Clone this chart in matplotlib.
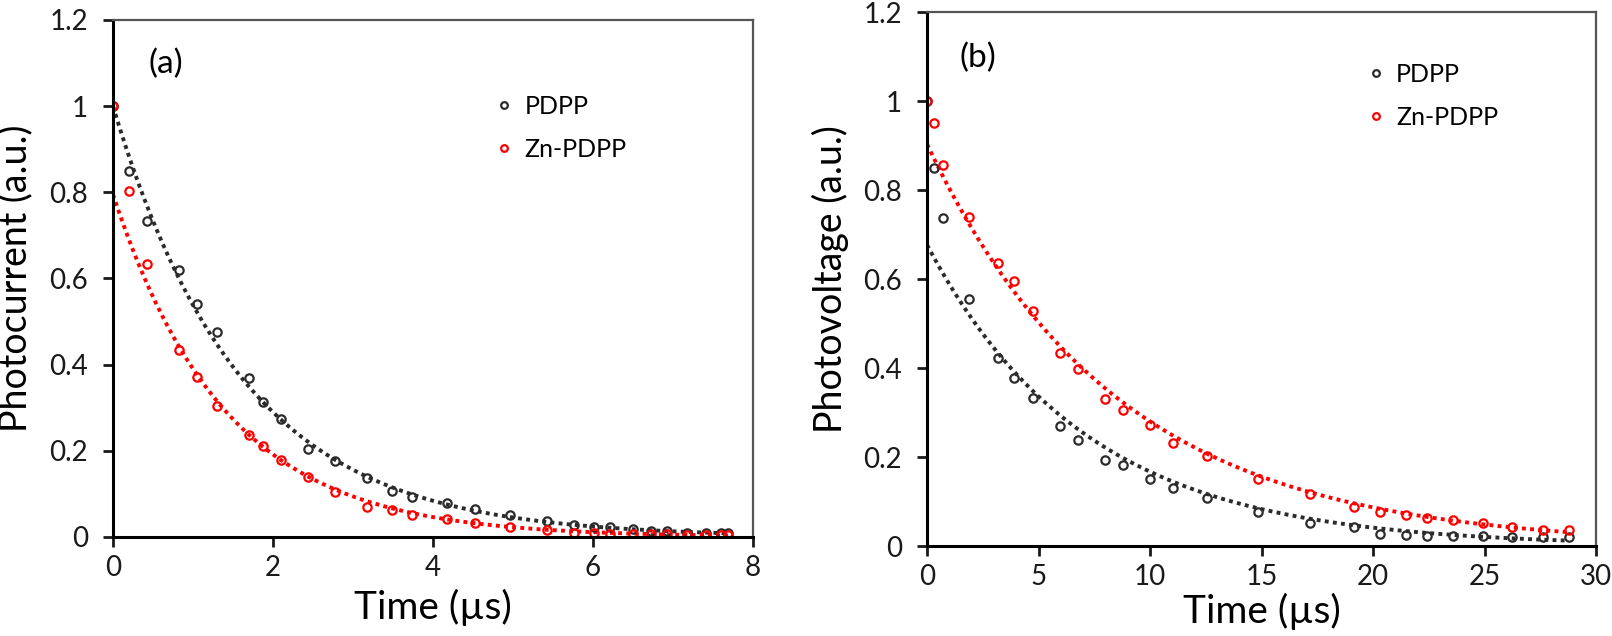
import numpy as np
import matplotlib
matplotlib.use('Agg')
import matplotlib.pyplot as plt

plt.rcParams['font.family'] = ['Lato', 'DejaVu Sans']

# panel (a): transient photocurrent
time_a = [0, 0.2, 0.43, 0.82, 1.05, 1.30, 1.70, 1.88, 2.10, 2.44, 2.77, 3.18, 3.49, 3.74,
          4.18, 4.53, 4.96, 5.42, 5.76, 6.01, 6.21, 6.50, 6.72, 6.93, 7.18, 7.41, 7.60, 7.69]
pdpp_a = [1.0, 0.849, 0.734, 0.619, 0.541, 0.475, 0.369, 0.314, 0.274, 0.204, 0.176, 0.137, 0.107, 0.092,
          0.078, 0.064, 0.050, 0.036, 0.028, 0.024, 0.022, 0.018, 0.015, 0.015, 0.010, 0.010, 0.009, 0.009]
zn_a = [1.0, 0.804, 0.633, 0.433, 0.371, 0.303, 0.237, 0.211, 0.179, 0.140, 0.104, 0.070, 0.063, 0.051,
        0.041, 0.032, 0.024, 0.016, 0.010, 0.010, 0.007, 0.006, 0.006, 0.006, 0.005, 0.005, 0.005, 0.005]

# panel (b): transient photovoltage
time_b = [0, 0.33, 0.70, 1.88, 3.2, 3.92, 4.74, 5.96, 6.77, 7.98, 8.80, 10.01, 11.03, 12.57,
          14.85, 17.18, 19.13, 20.33, 21.49, 22.4, 23.59, 24.94, 26.23, 27.64, 28.77]
pdpp_b = [1.0, 0.849, 0.738, 0.554, 0.422, 0.378, 0.332, 0.270, 0.238, 0.193, 0.182, 0.151, 0.130, 0.109,
          0.077, 0.052, 0.043, 0.028, 0.025, 0.023, 0.022, 0.023, 0.021, 0.020, 0.021]
zn_b = [1.0, 0.950, 0.856, 0.740, 0.637, 0.595, 0.529, 0.434, 0.397, 0.330, 0.306, 0.272, 0.231, 0.202,
        0.150, 0.116, 0.087, 0.076, 0.070, 0.064, 0.058, 0.052, 0.043, 0.037, 0.037]

black = '#2b2b2b'
red = '#ff0000'


def exp_trend(t, y):
    # excel-style exponential trendline (linear fit of ln y)
    t = np.asarray(t, float)
    k, b = np.polyfit(t, np.log(y), 1)
    tt = np.linspace(0, t.max(), 200)
    return tt, np.exp(b) * np.exp(k * tt)


def style(ax, xlim, xticks):
    ax.set_xlim(*xlim)
    ax.set_ylim(0, 1.2)
    ax.set_xticks(xticks)
    ax.set_yticks([0, 0.2, 0.4, 0.6, 0.8, 1.0, 1.2])
    ax.set_yticklabels(['0', '0.2', '0.4', '0.6', '0.8', '1', '1.2'])
    for s in ['left', 'bottom']:
        ax.spines[s].set_linewidth(2.2)
        ax.spines[s].set_color('black')
    for s in ['top', 'right']:
        ax.spines[s].set_linewidth(1.6)
        ax.spines[s].set_color('#555555')
    ax.tick_params(direction='out', length=7, width=2, labelsize=20, pad=11, colors='#1a1a1a')
    ax.tick_params(axis='x', pad=6)


fig = plt.figure(figsize=(16.12, 6.36), dpi=100)
ax1 = fig.add_axes([0.0701, 0.1557, 0.3970, 0.8129])
ax2 = fig.add_axes([0.5751, 0.1415, 0.4150, 0.8396])

mk = dict(marker='o', markersize=6, markerfacecolor='none', markeredgewidth=1.6, linestyle='none')
ln = dict(linestyle=(0, (1, 1.1)), linewidth=2.8)

for ax, t, ys in [(ax1, time_a, (pdpp_a, zn_a)), (ax2, time_b, (pdpp_b, zn_b))]:
    for y, c in zip(ys, (black, red)):
        tt, fit = exp_trend(t, y)
        ax.plot(tt, fit, color=c, **ln)
    for y, c, name in zip(ys, (black, red), ('PDPP', 'Zn-PDPP')):
        ax.plot(t, y, color=c, markeredgecolor=c, label=name, **mk)

style(ax1, (0, 8), [0, 2, 4, 6, 8])
style(ax2, (0, 30), [0, 5, 10, 15, 20, 25, 30])

ax1.text(0.083, 0.915, '(a)', transform=ax1.transAxes, fontsize=24, ha='center', va='center')
ax2.text(0.076, 0.914, '(b)', transform=ax2.transAxes, fontsize=24, ha='center', va='center')

ax1.set_xlabel('Time (\u00b5s)', fontsize=28)
ax1.set_ylabel('Photocurrent (a.u.)', fontsize=27)
ax2.set_xlabel('Time (\u00b5s)', fontsize=28)
ax2.set_ylabel('Photovoltage (a.u.)', fontsize=27)
ax1.xaxis.set_label_coords(0.5, -0.1)
ax1.yaxis.set_label_coords(-0.125, 0.5)
ax2.xaxis.set_label_coords(0.5, -0.088)
ax2.yaxis.set_label_coords(-0.117, 0.5)

for ax, x0, y0 in [(ax1, 0.6, 0.855), (ax2, 0.66, 0.905)]:
    ax.legend(loc='upper left', bbox_to_anchor=(x0, y0), frameon=False, fontsize=18,
              handlelength=0.6, handletextpad=0.5, labelspacing=0.8, borderpad=0,
              borderaxespad=0, numpoints=1, markerscale=0.8)

fig.savefig('out.png', dpi=100, facecolor='white')
